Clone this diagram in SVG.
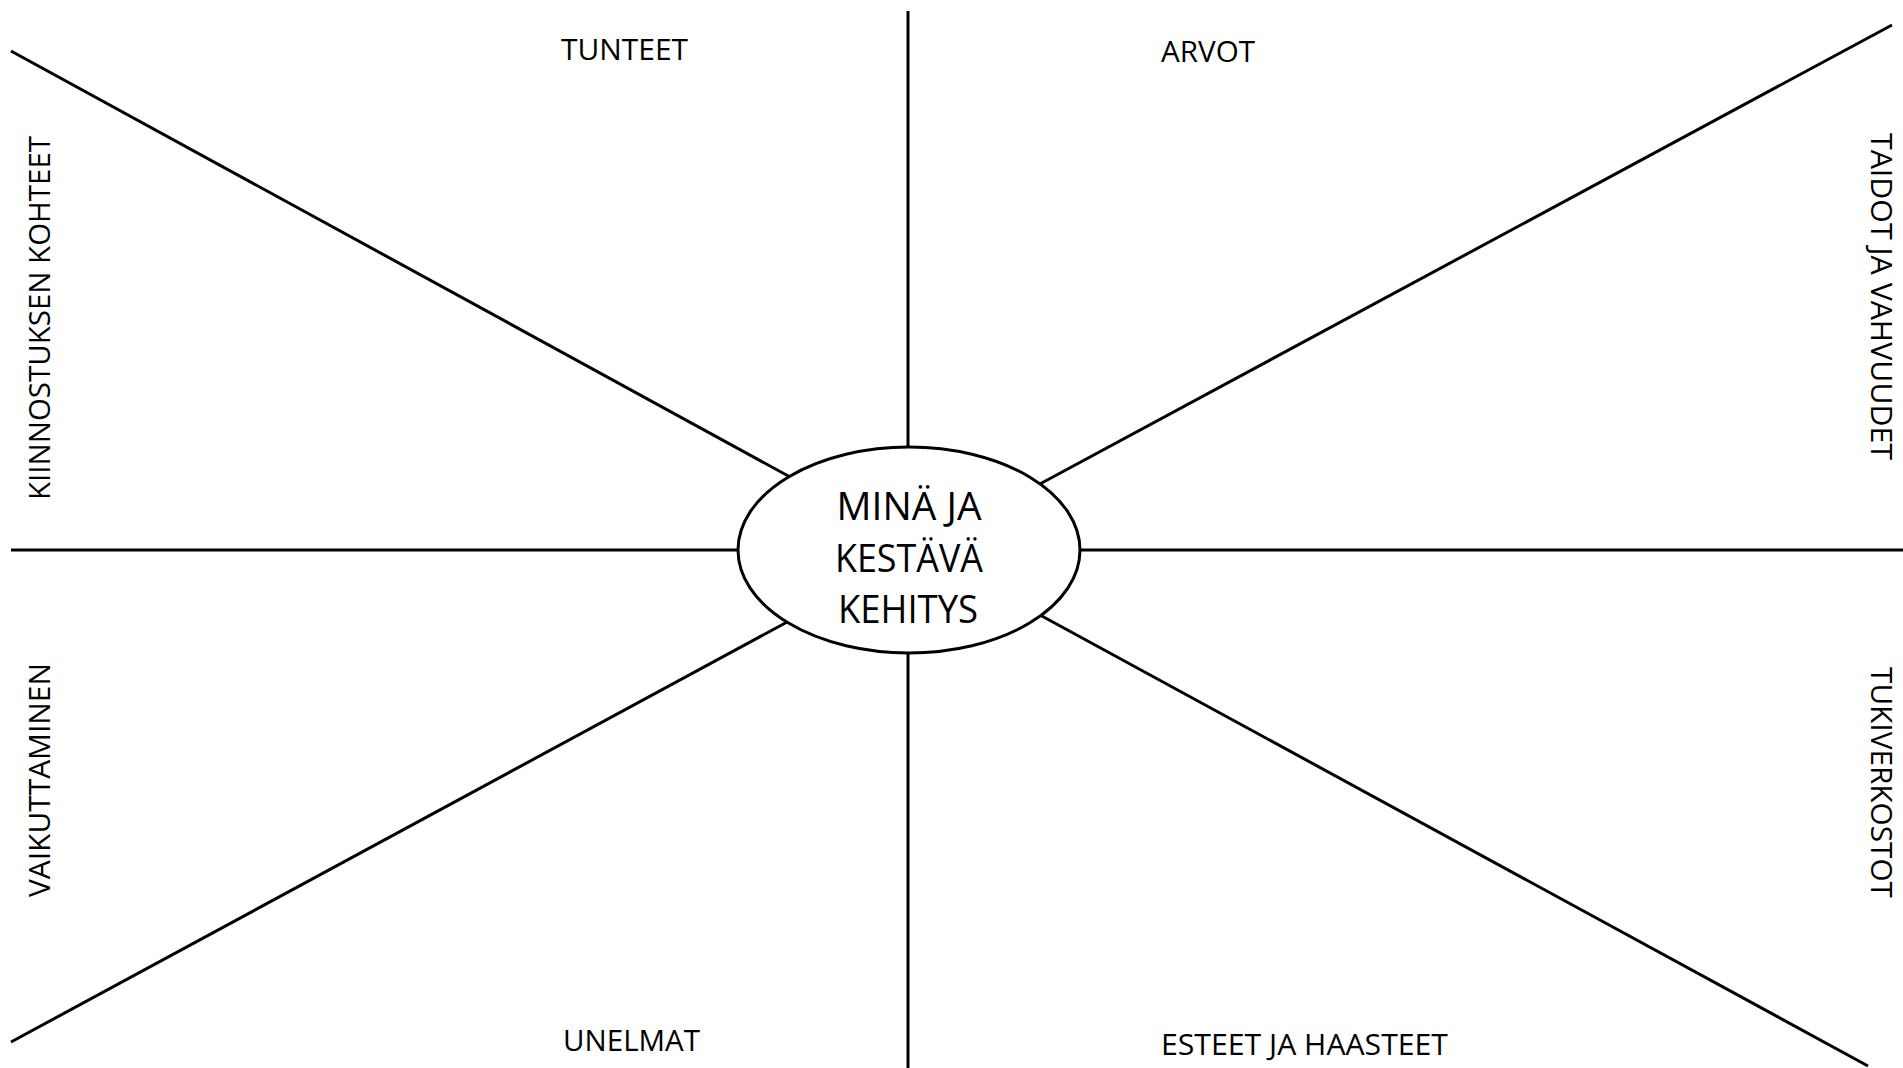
<svg xmlns="http://www.w3.org/2000/svg" width="1903" height="1068" viewBox="0 0 1903 1068">
<style>
.ln{stroke:#000;stroke-width:3;fill:none}
.lbl{font-family:"Open Sans","Liberation Sans",sans-serif;font-size:30px;fill:#000}
.ctr{font-family:"Open Sans","Liberation Sans",sans-serif;font-size:39px;fill:#000;text-anchor:middle}
</style>
<rect width="1903" height="1068" fill="#fff"/>
<g id="connectors">
<line class="ln" x1="908" y1="11" x2="908" y2="460"/>
<line class="ln" x1="908" y1="640" x2="908" y2="1068"/>
<line class="ln" x1="11" y1="550" x2="745" y2="550"/>
<line class="ln" x1="1075" y1="550" x2="1903" y2="550"/>
<line class="ln" x1="11" y1="51" x2="792" y2="478"/>
<line class="ln" x1="1038" y1="485" x2="1892" y2="25"/>
<line class="ln" x1="11" y1="1042" x2="789" y2="621"/>
<line class="ln" x1="1040" y1="615" x2="1868" y2="1066"/>
</g>
<g id="center">
<ellipse class="ln" cx="909" cy="550" rx="171" ry="103" fill="#fff" style="fill:#fff"/>
<text class="ctr" x="909" y="520" textLength="145" lengthAdjust="spacingAndGlyphs">MINÄ JA</text>
<text class="ctr" x="909" y="572" textLength="148" lengthAdjust="spacingAndGlyphs">KESTÄVÄ</text>
<text class="ctr" x="908" y="623" textLength="140" lengthAdjust="spacingAndGlyphs">KEHITYS</text>
</g>
<g id="tunteet"><text class="lbl" x="561" y="60" textLength="127" lengthAdjust="spacingAndGlyphs">TUNTEET</text></g>
<g id="arvot"><text class="lbl" x="1161" y="62" textLength="94" lengthAdjust="spacingAndGlyphs">ARVOT</text></g>
<g id="unelmat"><text class="lbl" x="563" y="1051" textLength="137" lengthAdjust="spacingAndGlyphs">UNELMAT</text></g>
<g id="esteet"><text class="lbl" x="1161" y="1055" textLength="287" lengthAdjust="spacingAndGlyphs">ESTEET JA HAASTEET</text></g>
<g id="kiinnostus"><text class="lbl" transform="translate(50,500) rotate(-90)" textLength="364" lengthAdjust="spacingAndGlyphs">KIINNOSTUKSEN KOHTEET</text></g>
<g id="vaikuttaminen"><text class="lbl" transform="translate(50,897) rotate(-90)" textLength="234" lengthAdjust="spacingAndGlyphs">VAIKUTTAMINEN</text></g>
<g id="taidot"><text class="lbl" transform="translate(1871,133) rotate(90)" textLength="327" lengthAdjust="spacingAndGlyphs">TAIDOT JA VAHVUUDET</text></g>
<g id="tukiverkostot"><text class="lbl" transform="translate(1871,667) rotate(90)" textLength="231" lengthAdjust="spacingAndGlyphs">TUKIVERKOSTOT</text></g>
</svg>
